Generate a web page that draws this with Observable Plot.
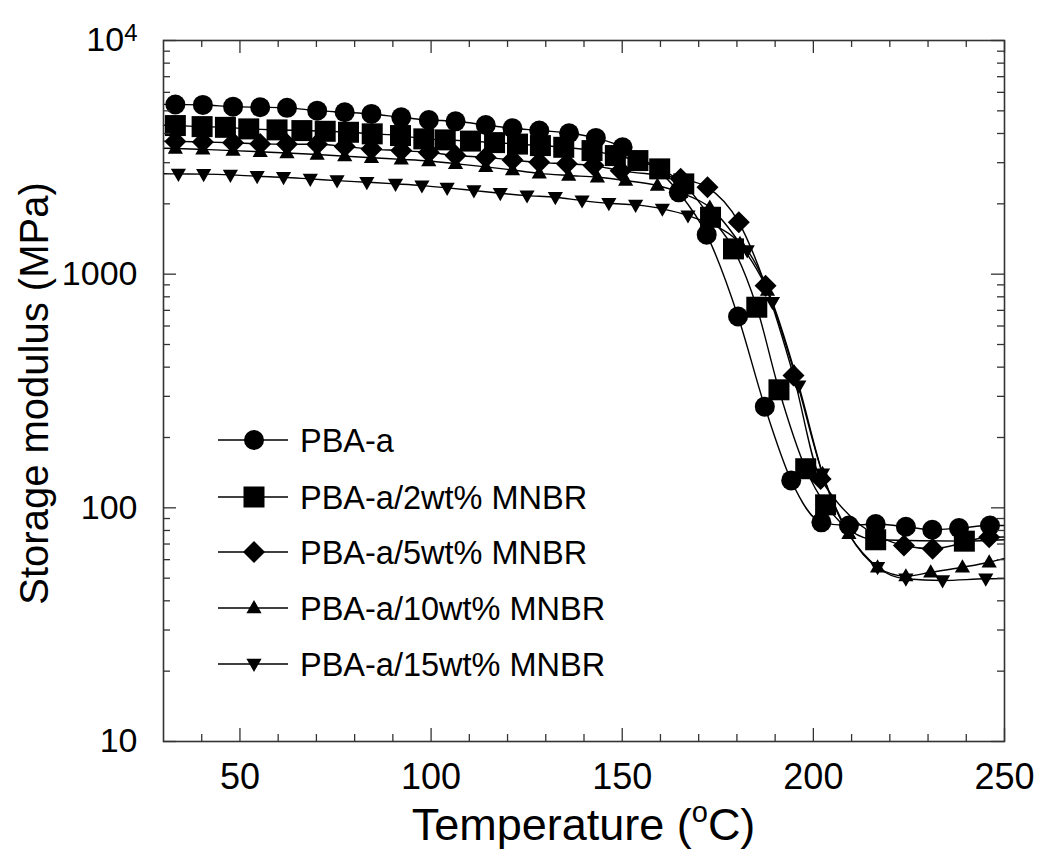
<!DOCTYPE html>
<html><head><meta charset="utf-8">
<script src="https://cdn.jsdelivr.net/npm/d3@7"></script>
<script src="https://cdn.jsdelivr.net/npm/@observablehq/plot@0.6"></script>
<style>body{margin:0;background:#fff}</style>
</head><body><div id="chart"></div>
<script>
// ---- data ----
const seriesNames = ["PBA-a", "PBA-a/2wt% MNBR", "PBA-a/5wt% MNBR", "PBA-a/10wt% MNBR", "PBA-a/15wt% MNBR"];

const tempPBA = [33.1, 40.3, 48.2, 55.3, 62.3, 70.2, 77.4, 84.4, 92.2, 99.4, 106.4, 114.3, 121.3, 128.3, 136.1, 143.1, 150.1, 164.8, 172.1, 180.3, 187.3, 194.2, 202.1, 209.3, 216.3, 224.2, 231.1, 238.1, 246.2];
const modPBA  = [5320, 5300, 5210, 5180, 5150, 5010, 4930, 4850, 4690, 4570, 4510, 4350, 4210, 4120, 4010, 3830, 3490, 2240, 1476, 659, 271, 131, 86.7, 84, 85.3, 83, 80.6, 81.9, 84];

const temp2 = [33.1, 40.1, 46.2, 52.3, 59.7, 66.2, 72.3, 78.4, 84.6, 92.0, 98.1, 103.7, 110.3, 116.6, 122.6, 128.6, 134.7, 142.1, 148.2, 154.1, 159.8, 166.1, 173.1, 179.1, 185.2, 191.0, 198.0, 203.2, 216.3, 239.5];
const mod2  = [4325, 4280, 4250, 4185, 4144, 4116, 4088, 4048, 3985, 3919, 3793, 3755, 3711, 3656, 3603, 3550, 3491, 3380, 3218, 3063, 2822, 2434, 1752, 1283, 722, 320, 147, 103, 73, 72];

const temp5 = [33.1, 40.3, 48.2, 55.3, 62.3, 70.2, 77.4, 84.4, 92.2, 99.4, 106.4, 114.3, 121.3, 128.3, 135.5, 142.5, 149.6, 165.3, 172.3, 180.5, 187.5, 194.8, 201.9, 223.7, 231.2, 246.0];
const mod5  = [3700, 3680, 3650, 3610, 3600, 3600, 3520, 3430, 3380, 3320, 3220, 3160, 3080, 3010, 2966, 2915, 2773, 2559, 2354, 1667, 893, 368, 133, 69, 66.8, 74.8];

const temp10 = [33.1, 40.3, 48.2, 55.3, 62.3, 70.2, 77.4, 84.4, 92.2, 99.4, 106.4, 114.3, 121.3, 128.3, 136.0, 143.5, 150.9, 159.2, 165.3, 172.9, 180.8, 188.0, 195.0, 202.4, 209.3, 216.8, 224.2, 230.7, 239.0, 246.0];
const mod10  = [3450, 3420, 3380, 3340, 3300, 3250, 3200, 3150, 3100, 3050, 2970, 2880, 2790, 2700, 2644, 2599, 2516, 2395, 2230, 1931, 1350, 850, 380, 140, 77.4, 55.7, 51, 53, 55.7, 58.5];

const temp15 = [33.9, 40.5, 47.5, 54.5, 61.4, 68.4, 75.4, 83.2, 90.7, 97.6, 104.2, 111.2, 118.1, 125.1, 132.5, 139.5, 146.5, 153.5, 160.5, 167.2, 182.7, 189.3, 196.2, 202.4, 216.8, 224.2, 233.8, 245.1];
const mod15  = [2686, 2680, 2660, 2624, 2599, 2557, 2515, 2474, 2434, 2394, 2340, 2279, 2219, 2169, 2133, 2065, 2011, 1979, 1903, 1781, 1262, 759, 333, 140, 55.7, 49.7, 48.9, 49.7];

// where each curve meets the left (30 °C) and right (250 °C) frame edges
const edgeStart = [5330, 4340, 3710, 3460, 2690];
const edgeEnd   = [84, 73, 75, 60.8, 49.8];

const xTicks = [50, 100, 150, 200, 250];
const xMinorTicks = [40, 60, 70, 80, 90, 110, 120, 130, 140, 160, 170, 180, 190, 210, 220, 230, 240];
const yTicks = [10, 100, 1000, 10000];
const yMinorTicks = [20,30,40,50,60,70,80,90,200,300,400,500,600,700,800,900,2000,3000,4000,5000,6000,7000,8000,9000];

// ---- symbols ----
const symCircle = {draw(c, size){const r=Math.sqrt(size/Math.PI); c.moveTo(r,0); c.arc(0,0,r,0,2*Math.PI);}};
const symSquare = {draw(c, size){const r=Math.sqrt(size/Math.PI); c.rect(-r,-r,2*r,2*r);}};
const symDiamond = {draw(c, size){const r=Math.sqrt(size/Math.PI); c.moveTo(0,-r); c.lineTo(r,0); c.lineTo(0,r); c.lineTo(-r,0); c.closePath();}};
const symTriUp = {draw(c, size){const r=Math.sqrt(size/Math.PI); c.moveTo(0,-r); c.lineTo(r*0.95,r*0.65); c.lineTo(-r*0.95,r*0.65); c.closePath();}};
const symTriDown = {draw(c, size){const r=Math.sqrt(size/Math.PI); c.moveTo(0,r); c.lineTo(r*0.95,-r*0.65); c.lineTo(-r*0.95,-r*0.65); c.closePath();}};
const symbols = [symCircle, symSquare, symDiamond, symTriUp, symTriDown];
const radii = [10, 10.5, 11, 8, 8];

const temps = [tempPBA, temp2, temp5, temp10, temp15];
const mods = [modPBA, mod2, mod5, mod10, mod15];

const W = 1044, H = 862, mL = 163, mR = 40, mT = 40, mB = 121;
const fw = W - mL - mR, fh = H - mT - mB;
const font = "Liberation Sans, Arial, Helvetica, sans-serif";

const marks = [];
temps.forEach((ts, i) => {
  const pts = ts.map((t, j) => ({T: t, E: mods[i][j]}));
  const linePts = [{T: 30, E: edgeStart[i]}, ...pts, {T: 250, E: edgeEnd[i]}];
  marks.push(Plot.line(linePts, {x: "T", y: "E", curve: "monotone-x", stroke: "black", strokeWidth: 1.4}));
});
temps.forEach((ts, i) => {
  const pts = ts.map((t, j) => ({T: t, E: mods[i][j]}));
  marks.push(Plot.dot(pts, {x: "T", y: "E", symbol: symbols[i], r: radii[i], fill: "black", stroke: "none"}));
});
// inward ticks on all four sides
const tc = "#333";
marks.push(
  Plot.tickX(xTicks, {x: d => d, insetTop: fh - 13, stroke: tc, strokeWidth: 1.3}),
  Plot.tickX(xMinorTicks, {x: d => d, insetTop: fh - 7, stroke: tc, strokeWidth: 1.3}),
  Plot.tickX(xTicks, {x: d => d, insetBottom: fh - 13, stroke: tc, strokeWidth: 1.3}),
  Plot.tickX(xMinorTicks, {x: d => d, insetBottom: fh - 7, stroke: tc, strokeWidth: 1.3}),
  Plot.tickY(yTicks, {y: d => d, insetRight: fw - 13, stroke: tc, strokeWidth: 1.3}),
  Plot.tickY(yMinorTicks, {y: d => d, insetRight: fw - 7, stroke: tc, strokeWidth: 1.3}),
  Plot.tickY(yTicks, {y: d => d, insetLeft: fw - 13, stroke: tc, strokeWidth: 1.3}),
  Plot.tickY(yMinorTicks, {y: d => d, insetLeft: fw - 7, stroke: tc, strokeWidth: 1.3}),
  Plot.frame({stroke: "#333", strokeWidth: 1.6})
);

const chart = Plot.plot({
  width: W, height: H,
  marginLeft: mL, marginRight: mR, marginTop: mT, marginBottom: mB,
  style: {fontSize: "34px", fontFamily: font, background: "white", color: "black"},
  x: {domain: [30, 250], ticks: xTicks, tickSize: 0, tickPadding: 22, label: null},
  y: {type: "log", domain: [10, 10000], ticks: yTicks, tickSize: 0, tickPadding: 26, label: null,
      tickFormat: d => d === 10000 ? "10⁴" : String(d)},
  marks
});
document.getElementById("chart").appendChild(chart);

const svg = d3.select(chart);
// slightly larger x tick labels
svg.selectAll("g[aria-label^='x-axis'] text").attr("font-size", "36px");
// superscript for 10^4
svg.selectAll("text").filter(function(){ return this.textContent === "10⁴"; }).each(function(){
  const t = d3.select(this); t.text("");
  t.append("tspan").text("10");
  t.append("tspan").attr("dy", "-0.45em").attr("font-size", "24px").text("4");
});

// axis titles
const xt = svg.append("text").attr("x", mL + fw/2).attr("y", 840).attr("text-anchor", "middle")
  .attr("font-family", font).attr("font-size", "45px").attr("fill", "black");
xt.append("tspan").text("Temperature (");
xt.append("tspan").attr("font-size", "29px").attr("dy", "-18").text("o");
xt.append("tspan").attr("dy", "18").text("C)");

svg.append("text").attr("transform", `translate(48,${mT + fh/2 + 3}) rotate(-90)`).attr("text-anchor", "middle")
  .attr("font-family", font).attr("font-size", "40px").attr("fill", "black").text("Storage modulus (MPa)");

// legend
const rowsY = [440, 497, 552, 608, 664];
const lg = svg.append("g").attr("text-anchor", "start");
seriesNames.forEach((name, i) => {
  const y = rowsY[i];
  lg.append("line").attr("x1", 218).attr("x2", 288).attr("y1", y).attr("y2", y).attr("stroke", "black").attr("stroke-width", 1.6);
  lg.append("path").attr("transform", `translate(254,${y})`).attr("d", d3.symbol(symbols[i], Math.PI * radii[i] * radii[i])()).attr("fill", "black");
  lg.append("text").attr("x", 300).attr("y", y).attr("dy", "0.36em").attr("text-anchor", "start")
    .attr("font-family", font).attr("font-size", "32.5px").attr("fill", "black").text(name);
});
</script>
</body></html>
